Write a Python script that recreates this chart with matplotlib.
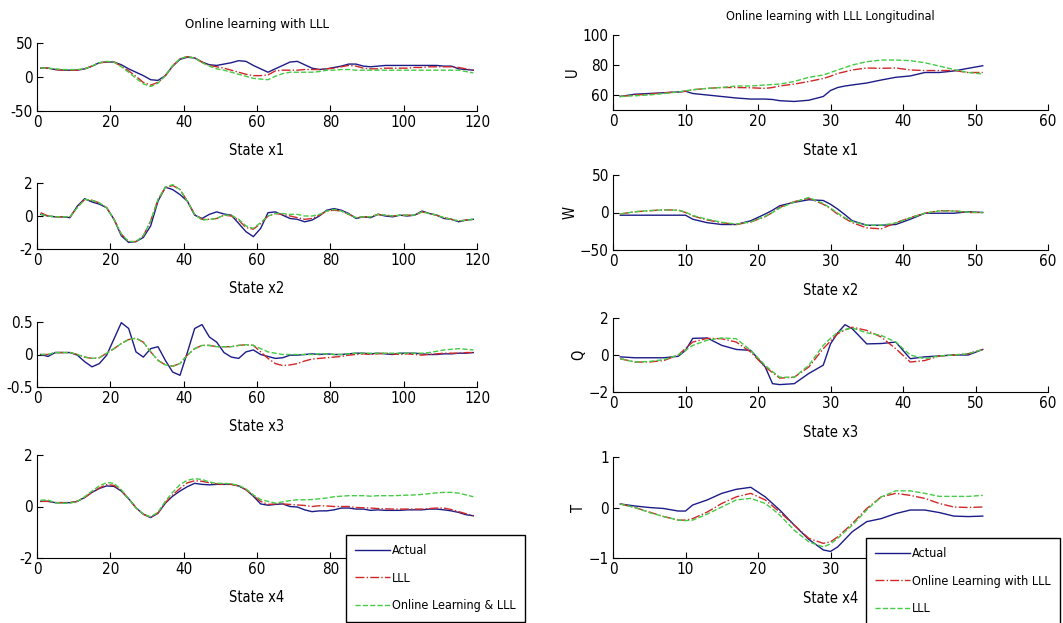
from matplotlib import pyplot as plt
import numpy as np

plt.rcParams['font.family'] = ['DejaVu Sans']
plt.rcParams['font.stretch'] = 'condensed'

# left column: lateral states, sampled at odd steps
steps = np.arange(1, 120, 2)

x1_actual = [13, 13, 11, 10, 10, 10, 12, 16, 21, 22, 22, 18, 12, 7, 2, -4, -5, 2, 16, 26,
             29, 28, 22, 18, 17, 19, 21, 24, 23, 17, 12, 7, 12, 17, 22, 23, 18, 13, 11, 12,
             14, 16, 19, 19, 16, 15, 16, 17, 17, 17, 17, 17, 17, 17, 17, 16, 16, 12, 11, 10]
x1_lll = [13, 13, 11, 10, 10, 10, 12, 16, 21, 22, 22, 16, 9, 1, -8, -12, -8, 2, 16, 27,
          30, 28, 22, 17, 15, 13, 10, 7, 4, 2, 2, 3, 9, 10, 10, 10, 11, 11, 11, 12,
          13, 15, 17, 16, 13, 12, 12, 13, 13, 13, 13, 14, 14, 15, 15, 15, 15, 14, 12, 10]
x1_online = [13, 13, 12, 11, 11, 11, 12, 16, 21, 23, 22, 15, 7, -2, -10, -14, -9, 2, 17, 27,
             30, 28, 21, 16, 12, 10, 7, 4, 1, -2, -3, -4, 1, 5, 7, 7, 7, 7, 8, 10,
             10, 11, 11, 10, 10, 10, 10, 10, 10, 10, 10, 10, 10, 10, 10, 10, 10, 10, 8, 6]

x2_actual = [0.1, 0.0, -0.05, -0.05, -0.1, 0.6, 1.05, 0.85, 0.72, 0.5, -0.2, -1.2, -1.6, -1.55, -1.3,
             -0.6, 0.9, 1.75, 1.6, 1.3, 0.9, 0.05, -0.15, 0.1, 0.25, 0.12, 0.05, -0.45, -0.95, -1.25,
             -0.75, 0.2, 0.25, 0.05, -0.15, -0.2, -0.35, -0.25, 0.0, 0.35, 0.45, 0.35, 0.15, -0.15, -0.05,
             -0.1, 0.1, 0.0, -0.05, 0.05, 0.0, 0.05, 0.3, 0.15, 0.05, -0.15, -0.2, -0.35, -0.25, -0.2]
x2_lll = [0.2, 0.0, -0.05, -0.05, -0.05, 0.55, 1.0, 0.95, 0.8, 0.5, -0.2, -1.1, -1.55, -1.55, -1.2,
          -0.3, 1.0, 1.7, 1.85, 1.6, 0.9, 0.1, -0.2, -0.2, -0.15, 0.05, 0.0, -0.25, -0.7, -0.8,
          -0.45, 0.0, 0.15, 0.1, 0.0, -0.1, -0.2, -0.15, 0.05, 0.3, 0.35, 0.3, 0.1, -0.1, -0.05,
          -0.05, 0.1, 0.05, 0.0, 0.05, 0.05, 0.05, 0.25, 0.15, 0.05, -0.1, -0.2, -0.3, -0.25, -0.2]
x2_online = [0.1, 0.0, -0.05, -0.05, -0.05, 0.5, 1.0, 0.95, 0.8, 0.5, -0.2, -1.1, -1.55, -1.55, -1.2,
             -0.3, 1.0, 1.75, 1.9, 1.6, 0.9, 0.1, -0.25, -0.2, -0.15, 0.05, 0.05, -0.2, -0.6, -0.75,
             -0.4, 0.0, 0.15, 0.15, 0.1, 0.1, 0.0, 0.0, 0.1, 0.3, 0.4, 0.3, 0.1, -0.1, -0.05,
             -0.05, 0.1, 0.05, 0.0, 0.05, 0.05, 0.05, 0.25, 0.15, 0.05, -0.1, -0.2, -0.3, -0.25, -0.2]

x3_actual = [0.0, -0.03, 0.03, 0.03, 0.03, -0.01, -0.11, -0.19, -0.14, -0.01, 0.24, 0.49, 0.4, 0.04, -0.04,
             0.09, 0.12, -0.09, -0.27, -0.32, 0.03, 0.4, 0.46, 0.27, 0.19, 0.03, -0.04, -0.06, 0.04, 0.07,
             0.0, -0.03, -0.06, -0.05, -0.01, -0.01, 0.0, 0.01, 0.0, 0.01, 0.0, 0.0, 0.01, 0.02, 0.02,
             0.01, 0.02, 0.01, 0.0, 0.02, 0.02, 0.02, 0.01, 0.0, 0.0, 0.01, 0.01, 0.02, 0.02, 0.03]
x3_lll = [0.0, 0.0, 0.03, 0.03, 0.03, 0.0, -0.04, -0.06, -0.05, 0.02, 0.09, 0.17, 0.23, 0.25, 0.19,
          0.04, -0.09, -0.16, -0.18, -0.14, -0.01, 0.09, 0.14, 0.14, 0.12, 0.12, 0.12, 0.14, 0.15, 0.14,
          0.04, -0.06, -0.14, -0.17, -0.16, -0.14, -0.1, -0.07, -0.06, -0.05, -0.04, -0.03, -0.01, 0.0, 0.01,
          0.0, 0.01, 0.02, 0.01, 0.0, 0.01, 0.0, -0.01, 0.0, 0.01, 0.02, 0.02, 0.02, 0.03, 0.03]
x3_online = [0.0, 0.0, 0.03, 0.03, 0.03, 0.0, -0.04, -0.06, -0.05, 0.02, 0.09, 0.17, 0.23, 0.25, 0.19,
             0.04, -0.09, -0.16, -0.18, -0.14, -0.01, 0.09, 0.14, 0.14, 0.12, 0.12, 0.12, 0.14, 0.15, 0.14,
             0.09, 0.04, 0.02, 0.0, 0.0, 0.0, 0.0, 0.0, 0.01, 0.01, 0.0, 0.0, 0.01, 0.02, 0.02,
             0.02, 0.02, 0.02, 0.02, 0.02, 0.02, 0.02, 0.02, 0.03, 0.05, 0.07, 0.08, 0.09, 0.08, 0.07]

x4_actual = [0.2, 0.2, 0.15, 0.15, 0.15, 0.2, 0.35, 0.55, 0.7, 0.8, 0.78, 0.6, 0.3, -0.05, -0.3,
             -0.43, -0.26, 0.13, 0.4, 0.6, 0.77, 0.9, 0.86, 0.84, 0.86, 0.86, 0.86, 0.8, 0.65, 0.4,
             0.1, 0.05, 0.08, 0.1, 0.0, -0.02, -0.13, -0.2, -0.17, -0.17, -0.13, -0.06, -0.06, -0.1, -0.1,
             -0.15, -0.13, -0.15, -0.15, -0.15, -0.13, -0.13, -0.13, -0.1, -0.1, -0.13, -0.17, -0.23, -0.32, -0.36]
x4_lll = [0.2, 0.2, 0.15, 0.15, 0.15, 0.2, 0.35, 0.55, 0.72, 0.85, 0.82, 0.62, 0.3, -0.05, -0.3,
          -0.42, -0.25, 0.15, 0.45, 0.7, 0.92, 1.0, 0.98, 0.92, 0.88, 0.86, 0.86, 0.8, 0.65, 0.42,
          0.2, 0.08, 0.1, 0.1, 0.08, 0.06, 0.04, 0.0, 0.03, 0.02, 0.0, 0.0, 0.0, -0.04, -0.05,
          -0.06, -0.08, -0.09, -0.1, -0.1, -0.1, -0.1, -0.1, -0.08, -0.06, -0.06, -0.12, -0.2, -0.28, -0.36]
x4_online = [0.25, 0.25, 0.15, 0.13, 0.13, 0.2, 0.38, 0.6, 0.8, 0.93, 0.9, 0.65, 0.3, -0.05, -0.3,
             -0.4, -0.22, 0.2, 0.55, 0.85, 1.02, 1.08, 1.05, 0.95, 0.9, 0.9, 0.88, 0.82, 0.68, 0.45,
             0.27, 0.2, 0.13, 0.18, 0.23, 0.26, 0.26, 0.27, 0.3, 0.33, 0.38, 0.4, 0.42, 0.42, 0.42,
             0.4, 0.42, 0.42, 0.42, 0.43, 0.44, 0.45, 0.47, 0.5, 0.53, 0.55, 0.55, 0.52, 0.45, 0.38]

# right column: longitudinal states
steps_r = [1, 3, 5, 7, 9, 10, 11, 13, 15, 17, 19, 21, 22, 23, 25,
           27, 29, 30, 31, 32, 33, 35, 37, 39, 41, 43, 45, 47, 49, 51]

u_actual = [59, 60.5, 61, 61.5, 62, 62.5, 61, 60, 59, 58, 57.3, 57.3, 57, 56.2, 55.7,
            56.5, 59, 63, 65, 66, 66.7, 68, 70, 71.8, 72.7, 75, 75, 76, 77.8, 79.5]
u_online = [59, 60, 60.5, 61.5, 62, 62.5, 63.5, 64.4, 65, 65, 64.8, 64.4, 65, 66, 67.3,
            69, 71, 72.5, 74.4, 75.5, 76.7, 78, 77.8, 78, 76.7, 76.3, 76.3, 76.3, 75, 75]
u_lll = [59, 59.5, 60, 61, 62, 62.8, 63.5, 64.4, 65, 66, 66, 66.7, 67, 67.3, 69,
         71.8, 73.3, 75, 76.7, 78.3, 80, 82.2, 83.3, 83.3, 82.9, 81.5, 79.3, 77, 75, 74]

w_actual = [-3.6, -3.6, -3.6, -3.6, -3.6, -3.6, -9, -13.6, -16, -16, -11, -2, 3, 9, 13.6,
            17, 16, 11, 4.5, -3, -11, -17, -17, -16, -9, -1, -1, -1, 1, 0]
w_online = [-2, 1, 2.3, 3.6, 3.2, 0, -4.5, -10, -13.6, -16, -12.7, -5.5, 0, 6.8, 14.5,
            19, 11, 5, -2.3, -8, -13.6, -20.5, -21.8, -13.6, -6.8, -1, 2.3, 2.3, 0, 0]
w_lll = [-2, 1, 2.5, 3.5, 3, 0.5, -4, -9, -13, -15.5, -12.5, -5, 0, 6, 14,
         20, 12, 6, -1, -7, -12, -17, -17, -14, -7, -1, 2, 2, 0.5, 0]

q_actual = [-0.1, -0.15, -0.15, -0.15, -0.07, 0.25, 0.9, 0.92, 0.52, 0.3, 0.25, -0.65, -1.55, -1.6, -1.55,
            -1.0, -0.55, 0.6, 1.2, 1.64, 1.42, 0.6, 0.62, 0.7, -0.2, -0.1, -0.05, 0.0, 0.0, 0.3]
q_online = [-0.2, -0.38, -0.38, -0.3, 0.0, 0.35, 0.7, 0.9, 0.88, 0.7, 0.16, -0.65, -0.95, -1.25, -1.2,
            -0.65, 0.34, 0.75, 1.15, 1.35, 1.5, 1.33, 0.97, 0.34, -0.38, -0.3, -0.05, 0.0, 0.07, 0.3]
q_lll = [-0.2, -0.38, -0.35, -0.25, 0.0, 0.25, 0.52, 0.8, 0.92, 0.88, 0.25, -0.56, -0.9, -1.2, -1.2,
         -0.56, 0.52, 0.9, 1.24, 1.38, 1.46, 1.2, 1.06, 0.7, 0.0, -0.2, -0.05, 0.0, 0.07, 0.3]

t_actual = [0.07, 0.03, 0.0, -0.02, -0.07, -0.07, 0.05, 0.15, 0.28, 0.36, 0.4, 0.21, 0.08, -0.05, -0.35,
            -0.63, -0.84, -0.87, -0.78, -0.63, -0.48, -0.28, -0.22, -0.12, -0.05, -0.05, -0.1, -0.17, -0.18, -0.17]
t_online = [0.07, 0.0, -0.09, -0.18, -0.25, -0.25, -0.22, -0.09, 0.08, 0.21, 0.28, 0.15, 0.03, -0.09, -0.35,
            -0.61, -0.71, -0.68, -0.58, -0.45, -0.32, -0.02, 0.21, 0.28, 0.24, 0.18, 0.08, 0.01, 0.0, 0.01]
t_lll = [0.07, 0.0, -0.1, -0.18, -0.25, -0.26, -0.25, -0.13, 0.01, 0.15, 0.18, 0.08, -0.03, -0.15, -0.45,
         -0.68, -0.78, -0.72, -0.61, -0.48, -0.35, -0.05, 0.21, 0.33, 0.33, 0.28, 0.22, 0.22, 0.22, 0.24]

blue = '#1c1c88'
red = '#d02828'
green = '#44cc44'

fig = plt.figure(figsize=(10.63, 6.23), dpi=100)
W, H = 1063.0, 623.0

def make_ax(x0, x1, ytop, ybot):
    ax = fig.add_axes([x0 / W, 1 - ybot / H, (x1 - x0) / W, (ybot - ytop) / H])
    ax.spines['top'].set_visible(False)
    ax.spines['right'].set_visible(False)
    ax.tick_params(direction='in', length=4, labelsize=11, top=False, right=False, pad=3)
    return ax

def add_legend(ax, handles, x, y):
    leg = ax.legend(handles=handles, loc='upper left', bbox_to_anchor=(x / W, 1 - y / H),
                    bbox_transform=fig.transFigure, fontsize=9, frameon=True, fancybox=False,
                    framealpha=1, edgecolor='black', handlelength=2.8, handletextpad=0.1,
                    labelspacing=1.15, borderpad=0.75, borderaxespad=0)
    leg.get_frame().set_linewidth(1.0)

left_boxes = [(43, 111), (183, 249), (322, 387), (455, 558)]
right_boxes = [(35, 110), (175, 250), (318, 392), (457, 558)]

left_data = [(x1_actual, x1_lll, x1_online, (-50, 50), [-50, 0, 50]),
             (x2_actual, x2_lll, x2_online, (-2, 2), [-2, 0, 2]),
             (x3_actual, x3_lll, x3_online, (-0.5, 0.5), [-0.5, 0, 0.5]),
             (x4_actual, x4_lll, x4_online, (-2, 2), [-2, 0, 2])]
right_data = [(u_actual, u_online, u_lll, (50, 100), [60, 80, 100], 'U'),
              (w_actual, w_online, w_lll, (-50, 50), [-50, 0, 50], 'W'),
              (q_actual, q_online, q_lll, (-2, 2), [-2, 0, 2], 'Q'),
              (t_actual, t_online, t_lll, (-1, 1), [-1, 0, 1], 'T')]

for i, (box, d) in enumerate(zip(left_boxes, left_data)):
    ax = make_ax(37, 477, box[0], box[1])
    a, = ax.plot(steps, d[0], color=blue, lw=1.0, label='Actual')
    b, = ax.plot(steps, d[1], color=red, lw=1.0, ls='-.', label='LLL')
    c, = ax.plot(steps, d[2], color=green, lw=1.0, ls='--', label='Online Learning & LLL')
    ax.set_xlim(0, 120)
    ax.set_ylim(*d[3])
    ax.set_yticks(d[4])
    ax.set_yticklabels([('%g' % v) for v in d[4]])
    ax.set_xticks(range(0, 121, 20))
    ax.set_xlabel('State x%d' % (i + 1), fontsize=10.5, labelpad=9)
    if i == 0:
        ax.set_title('Online learning with LLL', fontsize=9.5, pad=11)
    if i == 3:
        add_legend(ax, [a, b, c], 346, 535)

for i, (box, d) in enumerate(zip(right_boxes, right_data)):
    ax = make_ax(613, 1048, box[0], box[1])
    a, = ax.plot(steps_r, d[0], color=blue, lw=1.0, label='Actual')
    b, = ax.plot(steps_r, d[1], color=red, lw=1.0, ls='-.', label='Online Learning with LLL')
    c, = ax.plot(steps_r, d[2], color=green, lw=1.0, ls='--', label='LLL')
    ax.set_xlim(0, 60)
    ax.set_ylim(*d[3])
    ax.set_yticks(d[4])
    ax.set_xticks(range(0, 61, 10))
    ax.set_ylabel(d[5], fontsize=10.5, labelpad=2)
    ax.set_xlabel('State x%d' % (i + 1), fontsize=10.5, labelpad=10)
    if i == 0:
        ax.set_title('Online learning with LLL Longitudinal', fontsize=9, pad=11)
    if i == 3:
        add_legend(ax, [a, b, c], 866, 538)

fig.savefig('out.png', dpi=100)
